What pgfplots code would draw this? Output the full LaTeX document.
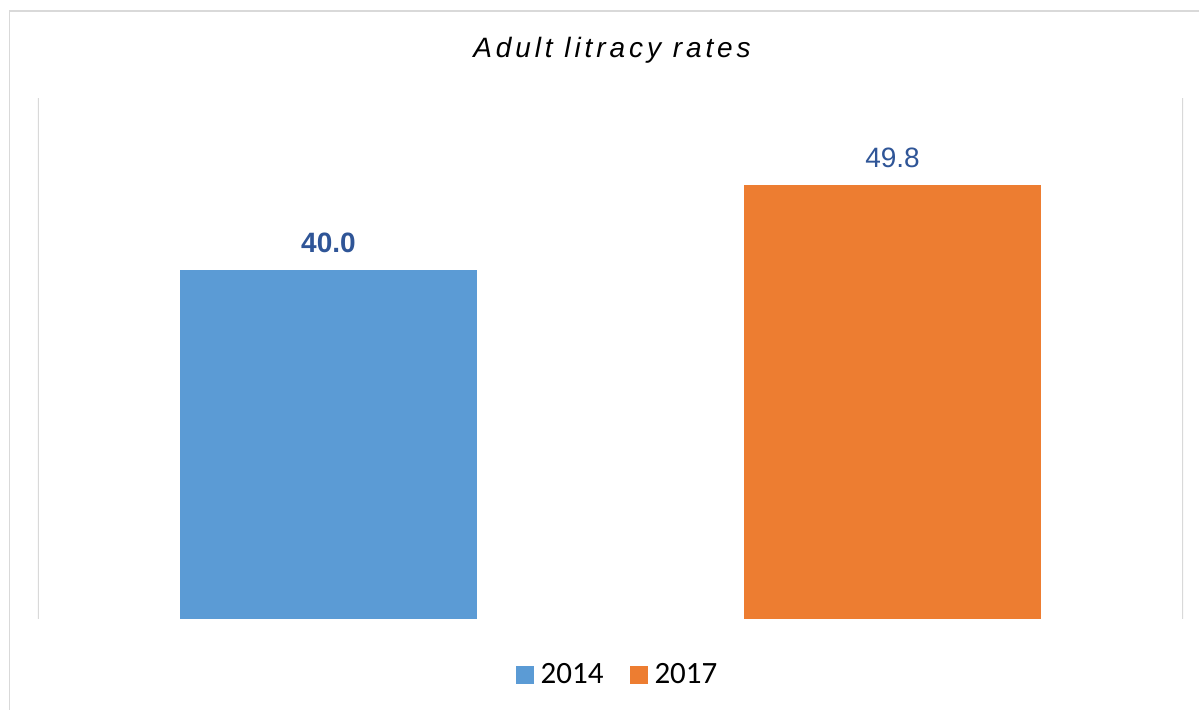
\documentclass[border=0pt]{standalone}
\usepackage{pgfplots}
\pgfplotsset{compat=1.18}
\usepackage{fontspec}
\setmainfont{Liberation Sans}
\newfontfamily\legfont{Carlito}
\newfontfamily\titlefont[LetterSpace=14]{Liberation Sans}
\definecolor{cblue}{HTML}{5B9BD5}
\definecolor{corange}{HTML}{ED7D31}
\definecolor{clabel}{HTML}{2F5597}
\definecolor{cframe}{HTML}{D9D9D9}
\begin{document}
\begin{tikzpicture}
\useasboundingbox (0,0) rectangle (599.5pt,355pt);
\draw[cframe, line width=0.8pt] (4.75pt,0) -- (4.75pt,349.5pt) -- (599.5pt,349.5pt);
\node[anchor=base, inner sep=0pt, font=\titlefont\fontsize{14}{16}\selectfont\itshape] at (306pt,326pt) {Adult litracy rates};
\begin{axis}[
  at={(19pt,45.5pt)}, anchor=south west,
  scale only axis, width=572.5pt, height=260.5pt,
  xmin=-0.515, xmax=1.515, ymin=0, ymax=59.8,
  axis line style={draw=none},
  xtick=\empty, ytick=\empty,
  ybar, bar width=148.5pt, bar shift=0pt,
  /pgf/number format/assume math mode=true,
  /pgf/number format/.cd, fixed, fixed zerofill, precision=1, /pgfplots/.cd,
  nodes near coords,
  every node near coord/.append style={font=\fontsize{14}{16}\selectfont, text=clabel, inner sep=0pt, anchor=south, yshift=8.5pt},
  legend columns=2,
  legend style={at={(0.507,-0.1075)}, anchor=center, draw=none, fill=none,
    font=\legfont\fontsize{15.5}{17}\selectfont, inner sep=0pt,
    /tikz/every odd column/.append style={column sep=1.5pt},
    /tikz/every even column/.append style={column sep=11pt}},
  legend image code/.code={\fill[#1] (0pt,-4.5pt) rectangle (9pt,4.5pt);},
]
\addplot[fill=cblue, draw=none, every node near coord/.append style={font=\fontsize{14}{16}\selectfont\bfseries}] coordinates {(0,40.0)};
\addlegendentry{2014}
\addplot[fill=corange, draw=none] coordinates {(1,49.8)};
\addlegendentry{2017}
\draw[cframe, line width=0.8pt] (rel axis cs:0,0) -- (rel axis cs:0,1);
\draw[cframe, line width=0.8pt] (rel axis cs:1,0) -- (rel axis cs:1,1);
\end{axis}
\end{tikzpicture}
\end{document}
